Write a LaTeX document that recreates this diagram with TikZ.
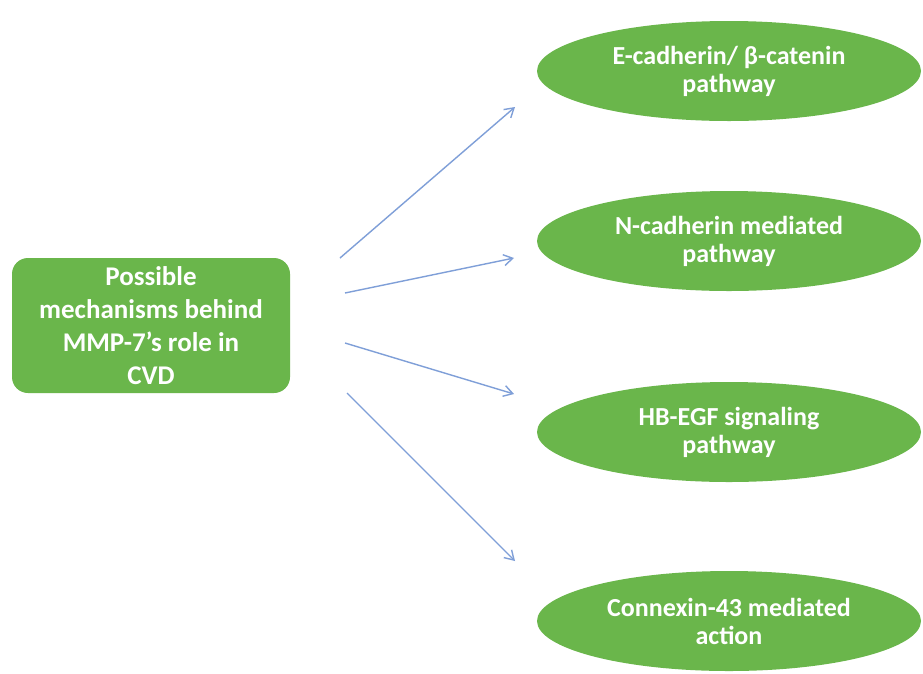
\documentclass[tikz,border=0pt]{standalone}
\usepackage{fontspec}
\setmainfont{Carlito}
\usetikzlibrary{shapes.geometric,arrows.meta}
\definecolor{leafgreen}{HTML}{6AB64B}
\definecolor{arrowblue}{HTML}{7F9FD8}
\tikzset{
  mainbox/.style={draw=none, fill=leafgreen, rounded corners=16pt, minimum width=278pt, minimum height=135pt, inner sep=0pt, align=center, text=white, font=\bfseries\fontsize{27}{33}\selectfont},
  pathoval/.style={ellipse, draw=none, fill=leafgreen, minimum width=384pt, minimum height=100pt, inner sep=0pt, align=center, text=white, font=\bfseries\fontsize{26}{28}\selectfont},
  linkarrow/.style={draw=arrowblue, line width=1.4pt, -{Straight Barb[length=9pt,width=11pt,line width=1.4pt]}}
}
\begin{document}
\begin{tikzpicture}[x=1pt,y=-1pt]
\useasboundingbox[fill=white] (0,0) rectangle (923,673);
\node[mainbox] (mech) at (151,325.5) {Possible\\mechanisms behind\\MMP-7’s role in\\CVD};
\node[pathoval] (ecad) at (729,71) {E-cadherin/ β-catenin\\pathway};
\node[pathoval] (ncad) at (729,241) {N-cadherin mediated\\pathway};
\node[pathoval] (hbegf) at (729,432) {HB-EGF signaling\\pathway};
\node[pathoval] (cx) at (729,621) {Connexin-43 mediated\\action};
\coordinate (s1) at (340,258);
\coordinate (e1) at (515,107);
\coordinate (s2) at (345,293);
\coordinate (e2) at (514,258);
\coordinate (s3) at (345,343);
\coordinate (e3) at (514,394);
\coordinate (s4) at (347,393);
\coordinate (e4) at (515,561);
\draw[linkarrow] (s1) -- (e1);
\draw[linkarrow] (s2) -- (e2);
\draw[linkarrow] (s3) -- (e3);
\draw[linkarrow] (s4) -- (e4);
\end{tikzpicture}
\end{document}
